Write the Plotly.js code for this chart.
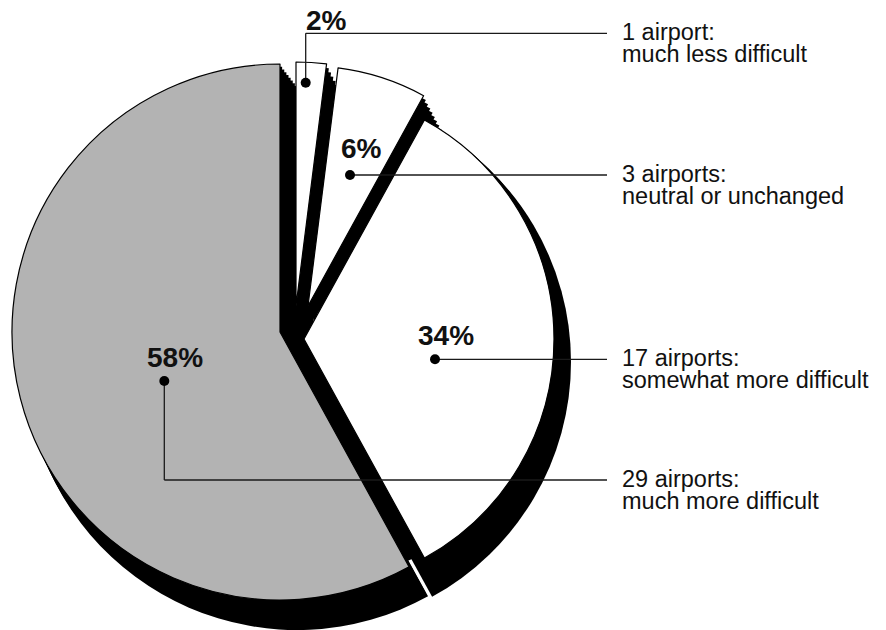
<!DOCTYPE html>
<html>
<head>
<meta charset="utf-8">
<script src="https://cdn.plot.ly/plotly-3.0.1.min.js"></script>
<style>
  html, body { margin: 0; padding: 0; background: #ffffff; }
  #chart { width: 886px; height: 630px; }
</style>
</head>
<body>
<div id="chart"></div>
<script>
// ---------------- data ----------------
const categories = ['1 airport', '3 airports', '17 airports', '29 airports'];
const airports = [1, 3, 17, 29];
const pctLabels = ['2%', '6%', '34%', '58%'];
const descLine1 = ['1 airport:', '3 airports:', '17 airports:', '29 airports:'];
const descLine2 = ['much less difficult', 'neutral or unchanged', 'somewhat more difficult', 'much more difficult'];

// ---------------- layout / style (pixels) ----------------
const W = 886, H = 630;
const faceFill = ['#ffffff', '#ffffff', '#ffffff', '#b3b3b3'];
// exploded face of every slice: vertex and radius
const faceGeom = [
  {cx: 296, cy: 306, r: 244},
  {cx: 308, cy: 306, r: 240},
  {cx: 304, cy: 339, r: 250},
  {cx: 280, cy: 332, r: 268}
];
// far end of the black extrusion ("shadow") of every slice
const shadowGeom = [
  {cx: 314, cy: 340, r: 244},
  {cx: 326, cy: 340, r: 240},
  {cx: 303, cy: 362, r: 268},
  {cx: 297, cy: 358, r: 272}
];
// black under-layer that fills the gap between the big slice and its neighbours
const gapFill = {slice: 3, cx: 312, cy: 341, r: 240};
const steps = [0.125, 0.25, 0.375, 0.5, 0.625, 0.75, 0.875, 1];

// label placement
const labelPos = [
  {pct: [326, 20], dot: [305.7, 82.7], lineY: 33.3},
  {pct: [361, 148], dot: [350, 175], lineY: 175},
  {pct: [446, 335], dot: [435, 359.3], lineY: 359.3},
  {pct: [175, 357.5], dot: [164.3, 381], lineY: 480}
];
const lineEndX = 607, textX = 622;

// ---------------- helpers ----------------
function domainFor(g) {
  return {
    x: [(g.cx - g.r) / W, (g.cx + g.r) / W],
    y: [1 - (g.cy + g.r) / H, 1 - (g.cy - g.r) / H]
  };
}
function onlySlice(idx, color, lineColor, lineWidth) {
  return {
    type: 'pie',
    values: airports,
    labels: categories,
    sort: false,
    direction: 'clockwise',
    rotation: 0,
    textinfo: 'none',
    hoverinfo: 'none',
    showlegend: false,
    marker: {
      colors: airports.map((_, i) => i === idx ? color : 'rgba(0,0,0,0)'),
      line: {
        color: airports.map((_, i) => i === idx ? lineColor : 'rgba(0,0,0,0)'),
        width: airports.map((_, i) => i === idx ? lineWidth : 0)
      }
    }
  };
}
const px = x => x / W;
const py = y => 1 - y / H;

// ---------------- traces ----------------
const traces = [];
// shadows / extrusions
airports.forEach((_, i) => {
  const f = faceGeom[i], s = shadowGeom[i];
  steps.forEach(t => {
    const g = {cx: f.cx + (s.cx - f.cx) * t, cy: f.cy + (s.cy - f.cy) * t, r: f.r + (s.r - f.r) * t};
    const tr = onlySlice(i, '#000000', '#000000', 0);
    tr.domain = domainFor(g);
    traces.push(tr);
  });
});
// gap filler
{
  const tr = onlySlice(gapFill.slice, '#000000', '#000000', 0);
  tr.domain = domainFor(gapFill);
  traces.push(tr);
}
// faces
[3, 2, 1, 0].forEach(i => {
  const tr = onlySlice(i, faceFill[i], '#000000', 1.2);
  tr.domain = domainFor(faceGeom[i]);
  traces.push(tr);
});

// ---------------- annotations and leaders ----------------
const annotations = [];
const shapes = [];
labelPos.forEach((p, i) => {
  annotations.push({
    xref: 'paper', yref: 'paper', x: px(p.pct[0]), y: py(p.pct[1]),
    xanchor: 'center', yanchor: 'middle', showarrow: false,
    borderpad: 0, borderwidth: 0,
    text: '<b>' + pctLabels[i] + '</b>',
    font: {family: 'Liberation Sans, Arial, sans-serif', size: 28, color: '#111111'}
  });
  annotations.push({
    xref: 'paper', yref: 'paper', x: px(textX), y: py(p.lineY - 1),
    xanchor: 'left', yanchor: 'middle', showarrow: false,
    borderpad: 0, borderwidth: 0,
    text: descLine1[i],
    font: {family: 'Liberation Sans, Arial, sans-serif', size: 23.5, color: '#111111'}
  });
  annotations.push({
    xref: 'paper', yref: 'paper', x: px(textX), y: py(p.lineY + 21),
    xanchor: 'left', yanchor: 'middle', showarrow: false,
    borderpad: 0, borderwidth: 0,
    text: descLine2[i],
    font: {family: 'Liberation Sans, Arial, sans-serif', size: 23.5, color: '#111111'}
  });
  const lineStyle = {color: '#1a1a1a', width: 1.3};
  if (Math.abs(p.lineY - p.dot[1]) > 0.5) {
    shapes.push({type: 'line', xref: 'paper', yref: 'paper',
      x0: px(p.dot[0]), y0: py(p.dot[1]), x1: px(p.dot[0]), y1: py(p.lineY), line: lineStyle});
  }
  shapes.push({type: 'line', xref: 'paper', yref: 'paper',
    x0: px(p.dot[0]), y0: py(p.lineY), x1: px(lineEndX), y1: py(p.lineY), line: lineStyle});
  const rd = 5;
  shapes.push({type: 'circle', xref: 'paper', yref: 'paper',
    x0: px(p.dot[0] - rd), x1: px(p.dot[0] + rd), y0: py(p.dot[1] + rd), y1: py(p.dot[1] - rd),
    fillcolor: '#000000', line: {width: 0}});
});

const layout = {
  width: W, height: H, autosize: false,
  margin: {l: 0, r: 0, t: 0, b: 0},
  paper_bgcolor: '#ffffff',
  showlegend: false,
  annotations: annotations,
  shapes: shapes
};

Plotly.newPlot('chart', traces, layout, {staticPlot: true, displayModeBar: false});
</script>
</body>
</html>
